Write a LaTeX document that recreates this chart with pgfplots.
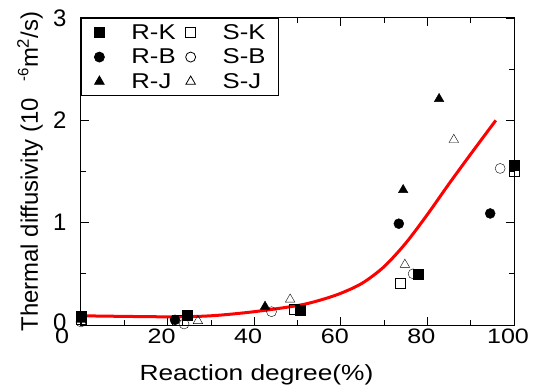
\documentclass[border=0pt]{standalone}
\usepackage{pgfplots}
\pgfplotsset{compat=1.18}
\usepackage{fontspec}
\setmainfont{Liberation Sans}
\newfontfamily\widesans[FakeStretch=1.2]{Liberation Sans}
\pgfplotsset{
  mk/.style={only marks, black,
    legend image code/.code={\draw[##1] plot coordinates {(0bp,0bp)};}},
}
\newcommand\lead[1]{\hspace*{27bp}#1}
\begin{document}
\begin{tikzpicture}
\path[use as bounding box] (-81bp,-64bp) rectangle (455bp,325bp);
\begin{axis}[
  scale only axis, width=433bp, height=307bp,
  xmin=0, xmax=100, ymin=0, ymax=3,
  xtick={0,20,...,100}, ytick={0,1,2,3},
  xticklabels={\hspace*{-13bp}0\hspace*{13bp},20,40,60,80,100},
  yticklabels={\raisebox{6bp}{0},1,2,3},
  minor x tick num=1, minor y tick num=1,
  tick align=inside, major tick length=8bp, minor tick length=5bp,
  tick style={black, line width=0.8bp},
  axis line style={line width=1bp},
  clip=false,
  /pgf/number format/assume math mode=true,
  xticklabel style={font=\widesans\fontsize{21}{24}\selectfont, xshift=-6bp},
  yticklabel style={font=\fontsize{24}{26}\selectfont, xshift=-11bp},
  xlabel={Reaction degree(\%)},
  xlabel style={font=\widesans\fontsize{22}{24}\selectfont,
    at={(axis description cs:0.5,0)}, anchor=center, yshift=-50bp, xshift=-41bp},
  ylabel={Thermal diffusivity (10\hspace{0.7em}\raisebox{0.75ex}{\fontsize{15}{16}\selectfont -6}m\textsuperscript{2}/s)},
  ylabel style={font=\fontsize{24}{26}\selectfont,
    at={(axis description cs:-0.1178,0.5)}, anchor=center},
  legend columns=2,
  legend cell align=left,
  legend style={at={(0,1)}, anchor=north west, draw=black, line width=0.8bp,
    font=\widesans\fontsize{21.5}{22}\selectfont,
    inner xsep=13bp, inner ysep=6bp,
    nodes={inner ysep=0bp, inner xsep=0bp},
    column sep=0bp, row sep=8bp},
]
% fitted trend of diffusivity against reaction degree
\addplot[red, line width=3bp, smooth, forget plot] coordinates {
  (0,0.09) (20,0.08) (30,0.09) (40,0.13) (50,0.19) (55,0.24)
  (60,0.31) (65,0.41) (70,0.57) (75,0.8) (80,1.08) (85,1.38)
  (90,1.67) (95.8,2.0)};
% R-K
\addplot[mk, mark=square*, mark size=5bp] coordinates {
  (0,0.09) (24.5,0.1) (50.6,0.14) (77.8,0.5) (100,1.56)};
% S-K
\addplot[mk, mark=square, mark size=5bp, mark options={fill=white}] coordinates {
  (0,0.06) (22.3,0.05) (49.2,0.15) (73.7,0.41) (100,1.5)};
% R-B
\addplot[mk, mark=*, mark size=5bp] coordinates {
  (21.7,0.05) (73.4,0.99) (94.5,1.09)};
% S-B
\addplot[mk, mark=o, mark size=5bp, mark options={fill=white}] coordinates {
  (0,0.03) (23.8,0.01) (44,0.13) (76.7,0.5) (96.8,1.53)};
% R-J
\addplot[mk, mark=triangle*, mark size=5.5bp] coordinates {
  (42.5,0.18) (74.4,1.32) (82.7,2.21)};
% S-J
\addplot[mk, mark=triangle, mark size=5.5bp, mark options={fill=white}] coordinates {
  (0,0.05) (27,0.04) (48.3,0.25) (74.8,0.59) (86.1,1.81)};
\legend{\lead{R-K}\hspace*{10bp}, \lead{S-K}, \lead{R-B}\hspace*{10bp}, \lead{S-B},
        \lead{R-J}\hspace*{10bp}, \lead{S-J}}
\end{axis}
\end{tikzpicture}
\end{document}
